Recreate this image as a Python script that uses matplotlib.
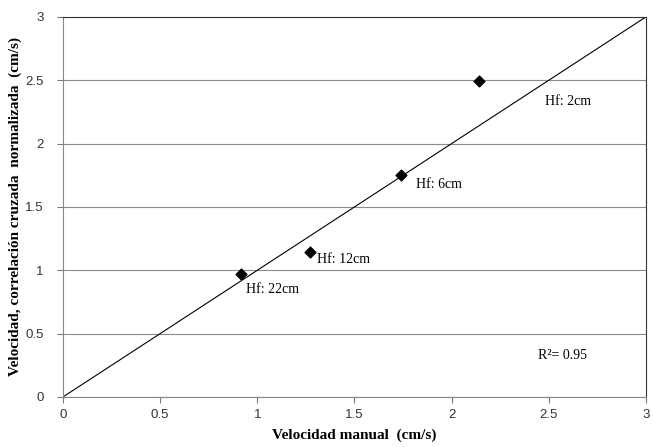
import matplotlib.pyplot as plt

# Measured velocities (cm/s)
v_manual = [0.916, 1.271, 1.74, 2.143]
v_xcorr = [0.968, 1.144, 1.752, 2.497]
labels = ["Hf: 22cm", "Hf: 12cm", "Hf: 6cm", "Hf: 2cm"]
label_x = [0.94, 1.306, 1.817, 2.48]
label_y = [0.845, 1.087, 1.68, 2.33]

ticks = [0, 0.5, 1, 1.5, 2, 2.5, 3]
tick_labels = ["0", "0.5", "1", "1.5", "2", "2.5", "3"]

fig = plt.figure(figsize=(6.53, 4.47), dpi=100)
ax = fig.add_axes([0.0965, 0.112, 0.8925, 0.85])

ax.plot([0, 3], [0, 3], color="black", linewidth=0.8, zorder=2)
ax.scatter(v_manual, v_xcorr, marker="D", s=30, color="black", zorder=3)

for lx, ly, txt in zip(label_x, label_y, labels):
    ax.text(lx, ly, txt, family="Liberation Serif", fontsize=10, va="center", ha="left")
ax.text(2.445, 0.33, "R²= 0.95", family="Liberation Serif", fontsize=10, va="center", ha="left")

ax.set_xlim(0, 3)
ax.set_ylim(0, 3)
ax.set_xticks(ticks)
ax.set_xticklabels(tick_labels)
ax.set_yticks(ticks)
ax.set_yticklabels(tick_labels)
ax.tick_params(labelsize=9.5, colors="#777777", labelcolor="#333333", length=4, width=0.8)
ax.tick_params(axis="y", pad=10)
ax.tick_params(axis="x", pad=5)
for lab in ax.get_xticklabels() + ax.get_yticklabels():
    lab.set_family("Liberation Sans")

ax.grid(axis="y", color="#8c8c8c", linewidth=0.8)
ax.set_axisbelow(True)
ax.spines["left"].set_color("#888888")
ax.spines["bottom"].set_color("#888888")
ax.spines["top"].set_color("#333333")
ax.spines["right"].set_color("#333333")

ax.set_xlabel("Velocidad manual  (cm/s)", family="Liberation Serif", fontsize=11, fontweight="bold", labelpad=5)
ax.set_ylabel("Velocidad, correlación cruzada  normalizada  (cm/s)", family="Liberation Serif",
              fontsize=11, fontweight="bold")
ax.yaxis.set_label_coords(-0.070, 0.5)

fig.savefig("out.png", dpi=100)
